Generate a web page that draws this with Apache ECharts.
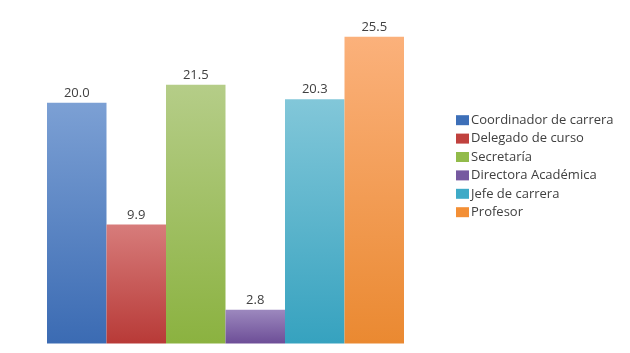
<!DOCTYPE html>
<html>
<head>
<meta charset="utf-8">
<script src="https://cdn.jsdelivr.net/npm/echarts@6/dist/echarts.min.js"></script>
<style>
  html, body { margin: 0; padding: 0; background: #fff; }
  #chart { width: 630px; height: 353px; }
</style>
</head>
<body>
<div id="chart"></div>
<script>
// one category, one series per role
const categories = [""];
const seriesNames = [
  "Coordinador de carrera",
  "Delegado de curso",
  "Secretaría",
  "Directora Académica",
  "Jefe de carrera",
  "Profesor"
];
const seriesValues = [20.0, 9.9, 21.5, 2.8, 20.3, 25.5];

// [top, bottom] gradient colours, plus solid legend colour
const topColors = ["#7ca0d4", "#d77c7b", "#b5cd88", "#9c88be", "#82c7d9", "#fbb17b"];
const bottomColors = ["#3b6bb3", "#b83a37", "#8bb240", "#6d4e97", "#36a2bf", "#ea8931"];
const legendColors = ["#3d6fb8", "#c0413e", "#92bb4a", "#7659a0", "#3eaac7", "#f38f35"];

const chart = echarts.init(document.getElementById("chart"), null, { renderer: "canvas" });

const series = seriesNames.map((name, i) => ({
  name: name,
  type: "bar",
  barGap: "0%",
  barCategoryGap: "0%",
  data: [seriesValues[i]],
  itemStyle: {
    color: new echarts.graphic.LinearGradient(0, 0, 0, 1, [
      { offset: 0, color: topColors[i] },
      { offset: 1, color: bottomColors[i] }
    ])
  },
  label: {
    show: true,
    position: "top",
    distance: 3,
    formatter: p => p.value.toFixed(1),
    color: "#404040",
    fontSize: 13,
    fontFamily: "Open Sans"
  },
  emphasis: { disabled: true },
  animation: false
}));

chart.setOption({
  backgroundColor: "#fff",
  animation: false,
  grid: { left: 47, top: 6.6, width: 357, bottom: 9.5 },
  xAxis: {
    type: "category",
    data: categories,
    axisLine: { show: false },
    axisTick: { show: false },
    axisLabel: { show: false }
  },
  yAxis: {
    type: "value",
    min: 0,
    max: 28,
    show: false,
    splitLine: { show: false }
  },
  legend: {
    orient: "vertical",
    left: 451,
    top: 108,
    itemWidth: 13,
    itemHeight: 10,
    itemGap: 4,
    icon: "rect",
    selectedMode: false,
    textStyle: { color: "#404040", fontSize: 13, lineHeight: 14.4, fontFamily: "Open Sans", padding: [0, 0, 0, -3] },
    data: seriesNames.map((n, i) => ({ name: n, itemStyle: { color: legendColors[i] } }))
  },
  series: series
});
</script>
</body>
</html>
